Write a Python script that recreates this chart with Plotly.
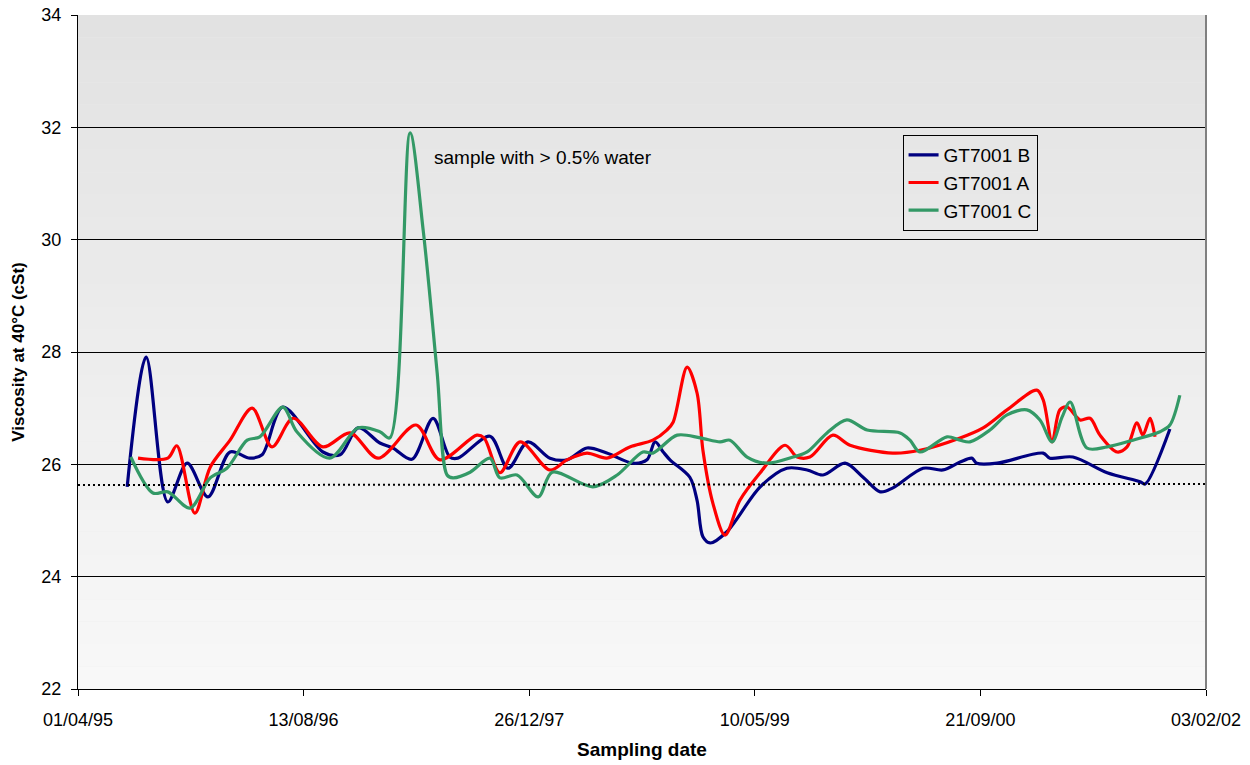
import plotly.graph_objects as go

# ---------------- data ----------------
b_dates = ["1995-07-19","1995-08-30","1995-10-17","1995-11-29","1996-01-14","1996-03-03","1996-04-16",
           "1996-05-13","1996-06-28","1996-09-25","1996-11-02","1996-12-12","1997-01-29","1997-02-27",
           "1997-04-10","1997-05-27","1997-07-03","1997-07-21","1997-09-30","1997-11-09","1997-12-23",
           "1998-02-10","1998-03-20","1998-05-03","1998-06-16","1998-08-13","1998-09-13","1998-10-01",
           "1998-10-19","1998-11-03","1998-12-17","1999-01-02","1999-01-15","1999-01-31","1999-03-09",
           "1999-05-22","1999-07-20","1999-09-03","1999-10-08","1999-11-26","2000-01-05","2000-02-12",
           "2000-03-11","2000-05-17","2000-06-30","2000-08-07","2000-09-02","2000-09-13","2000-10-28",
           "2001-02-07","2001-02-22","2001-04-14","2001-06-29","2001-09-10","2001-09-21","2001-11-15"]
b_vals = [25.60,27.91,25.33,26.02,25.42,26.22,26.11,
          26.17,27.02,26.22,26.17,26.65,26.38,26.29,
          26.09,26.82,26.13,26.11,26.50,25.93,26.40,
          26.11,26.08,26.29,26.20,26.02,26.08,26.40,
          26.22,26.08,25.77,25.36,24.71,24.60,24.80,
          25.60,25.93,25.90,25.81,26.02,25.77,25.51,
          25.58,25.93,25.90,26.04,26.11,26.02,26.02,
          26.20,26.11,26.13,25.85,25.69,25.65,26.63]

a_dates = ["1995-08-12","1995-10-17","1995-11-06","1995-12-16","1996-01-19","1996-03-03","1996-04-21",
           "1996-06-04","1996-07-21","1996-09-25","1996-11-24","1997-01-25","1997-04-19","1997-06-11",
           "1997-09-01","1997-09-17","1997-10-22","1997-12-06","1998-02-10","1998-03-20","1998-05-03",
           "1998-06-16","1998-08-06","1998-09-26","1998-10-27","1998-11-10","1998-12-11","1999-01-02",
           "1999-01-15","1999-02-06","1999-03-05","1999-04-07","1999-05-22","1999-07-16","1999-08-12",
           "1999-09-09","1999-10-30","1999-12-07","2000-03-11","2000-05-10","2000-08-07","2000-09-27",
           "2000-11-19","2001-01-24","2001-02-07","2001-02-27","2001-03-16","2001-04-01","2001-04-30",
           "2001-05-22","2001-06-13","2001-07-21","2001-08-12","2001-09-03","2001-09-16","2001-10-02",
           "2001-10-13"]
a_vals = [26.11,26.11,26.33,25.13,25.95,26.43,27.00,
          26.31,26.82,26.31,26.56,26.11,26.70,26.08,
          26.52,26.47,25.85,26.40,25.90,26.08,26.20,
          26.11,26.31,26.43,26.61,26.75,27.73,27.27,
          26.25,25.31,24.74,25.36,25.85,26.34,26.13,
          26.13,26.52,26.34,26.20,26.25,26.47,26.65,
          26.97,27.32,27.15,26.40,26.97,27.02,26.79,
          26.82,26.52,26.22,26.31,26.74,26.52,26.82,
          26.49]

c_dates = ["1995-07-27","1995-09-14","1995-10-17","1995-12-05","1996-01-19","1996-02-25","1996-04-10",
           "1996-05-08","1996-06-28","1996-07-29","1996-10-10","1996-12-12","1997-01-29","1997-02-20",
           "1997-04-06","1997-05-05","1997-06-05","1997-06-27","1997-07-10","1997-08-17","1997-09-30",
           "1997-10-22","1997-11-29","1998-01-15","1998-02-15","1998-05-16","1998-07-09","1998-09-04",
           "1998-09-26","1998-11-19","1999-01-09","1999-02-22","1999-03-16","1999-04-23","1999-06-06",
           "1999-08-03","1999-09-03","1999-10-17","1999-11-30","2000-01-14","2000-03-27","2000-04-18",
           "2000-05-10","2000-07-09","2000-08-07","2000-08-29","2000-10-12","2000-11-19","2001-01-02",
           "2001-01-31","2001-02-27","2001-03-21","2001-04-08","2001-05-15","2001-06-29","2001-08-25",
           "2001-10-24","2001-11-15","2001-12-07"]
c_vals = [26.13,25.49,25.51,25.22,25.76,25.93,26.43,
          26.49,27.02,26.58,26.11,26.65,26.58,26.47,
          31.90,30.17,27.63,25.81,25.76,25.86,26.11,
          25.76,25.81,25.42,25.86,25.60,25.81,26.22,
          26.20,26.52,26.47,26.40,26.43,26.13,26.02,
          26.13,26.22,26.56,26.79,26.61,26.56,26.43,
          26.22,26.49,26.43,26.40,26.61,26.88,26.97,
          26.79,26.40,26.84,27.11,26.29,26.31,26.43,
          26.58,26.70,27.23]

tick_dates = ["1995-04-01","1996-08-13","1997-12-26","1999-05-10","2000-09-21","2002-02-03"]
tick_text = ["01/04/95","13/08/96","26/12/97","10/05/99","21/09/00","03/02/02"]
ref_level = [25.63, 25.65]
annot_date, annot_val = "1997-05-25", 31.47

# ---------------- figure ----------------
fig = go.Figure()
series = [("GT7001 B", b_dates, b_vals, "#000080"),
          ("GT7001 A", a_dates, a_vals, "#FF0000"),
          ("GT7001 C", c_dates, c_vals, "#339966")]
for name, xs, ys, col in series:
    fig.add_trace(go.Scatter(x=xs, y=ys, name=name, mode="lines",
                             line=dict(color=col, width=3.2, shape="spline", smoothing=0.9)))

# stepped gradient background
shapes = []
n = 30
for i in range(n):
    t = i / (n - 1)
    g = int(round(226 + (248 - 226) * t))
    shapes.append(dict(type="rect", xref="paper", yref="paper", x0=0, x1=1,
                       y0=1 - (i + 1) / n, y1=1 - i / n, layer="below",
                       line=dict(width=0), fillcolor=f"rgb({g},{g},{g})"))
# reference dotted line
shapes.append(dict(type="line", xref="paper", yref="y", x0=0, x1=1,
                   y0=ref_level[0], y1=ref_level[1], layer="above",
                   line=dict(color="black", width=2, dash="2px,3px")))
# right border
shapes.append(dict(type="line", xref="paper", yref="paper", x0=1, x1=1, y0=0, y1=1,
                   line=dict(color="#808080", width=2)))
fig.update_layout(shapes=shapes)

fig.add_annotation(x=annot_date, y=annot_val, text="sample with > 0.5% water", showarrow=False,
                   xanchor="left", yanchor="middle", font=dict(size=19, color="black"))

fig.update_layout(
    width=1250, height=765,
    margin=dict(l=78, r=44, t=15, b=76),
    paper_bgcolor="white", plot_bgcolor="#ececec",
    font=dict(family="Liberation Sans, Arial, sans-serif", color="black", size=18),
    showlegend=True,
    legend=dict(x=0.731, y=0.822, xanchor="left", yanchor="top",
                bgcolor="rgba(0,0,0,0)", bordercolor="black", borderwidth=1,
                font=dict(size=19), tracegroupgap=0, itemwidth=30),
    xaxis=dict(type="date", range=["1995-04-01", "2002-02-03"],
               tickvals=tick_dates, ticktext=tick_text, tickfont=dict(size=18),
               showgrid=False, showline=True, linecolor="black", linewidth=1,
               ticks="outside", ticklen=6, tickcolor="black", ticklabelstandoff=8,
               title=dict(text="<b>Sampling date</b>", font=dict(size=19), standoff=14),
               zeroline=False, automargin=False),
    yaxis=dict(range=[22, 34], tickvals=[22, 24, 26, 28, 30, 32, 34], tickfont=dict(size=18),
               showgrid=True, gridcolor="black", gridwidth=1,
               showline=True, linecolor="black", linewidth=1,
               ticks="outside", ticklen=6, tickcolor="black", ticklabelstandoff=6,
               title=dict(text="<b>Viscosity at 40°C (cSt)</b>", font=dict(size=17), standoff=12),
               zeroline=False, automargin=False),
)

fig.write_html("out.html", config={"displayModeBar": False})
with open("out.html", "r", encoding="utf-8") as f:
    html = f.read()
html = html.replace("<head>", "<head><style>html,body{margin:0;padding:0;overflow:hidden;}</style>", 1)
with open("out.html", "w", encoding="utf-8") as f:
    f.write(html)
